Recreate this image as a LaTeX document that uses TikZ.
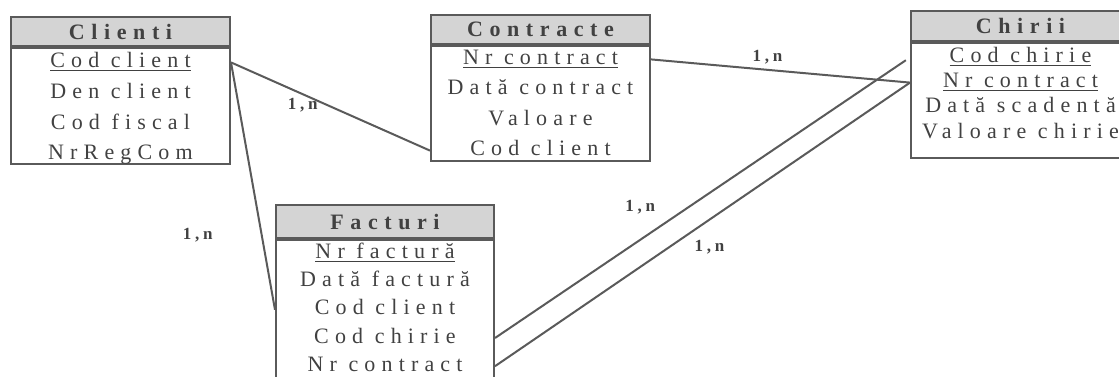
\documentclass[tikz,border=0pt]{standalone}
\usepackage{fontspec}
\setmainfont{Liberation Serif}
\newfontfamily\fldfont[LetterSpace=28]{Liberation Serif}
\newfontfamily\hdrfont[LetterSpace=30]{Liberation Serif}
\newfontfamily\cardfont[LetterSpace=22]{Liberation Serif}
\usepackage{xcolor}
\definecolor{inkgray}{RGB}{90,90,90}
\definecolor{txtgray}{RGB}{65,65,65}
\definecolor{hdrfill}{RGB}{212,212,212}
\usepackage{tikz}
\usetikzlibrary{positioning}

\begin{document}
\begin{tikzpicture}[x=0.5pt, y=-0.5pt,
    hdr/.style={rectangle, draw=inkgray, line width=1pt, fill=hdrfill,
                anchor=north west, inner sep=0pt,
                minimum width=109.5pt, minimum height=14.5pt,
                text=txtgray, font=\hdrfont\bfseries\fontsize{11pt}{13pt}\selectfont},
    body/.style={rectangle, draw=inkgray, line width=1pt, inner sep=0pt,
                 minimum width=109.5pt},
    fld/.style={inner sep=0pt, text height=7pt, text depth=2pt, text=txtgray,
                font=\fldfont\fontsize{11pt}{13pt}\selectfont},
    rel/.style={draw=inkgray, line width=1pt},
    card/.style={inner sep=0pt, text=txtgray,
                 font=\cardfont\bfseries\fontsize{8.5pt}{10pt}\selectfont},
  ]
    \useasboundingbox (0,0) rectangle (1119,376);

    % Clienti
    \node[hdr] (clH) at (10,16) {Clienti};
    \node[body, minimum height=58pt, below=0pt of clH] (clB) {};
    \node[fld, below=3pt of clH] (cl1) {\underline{Cod client}};
    \node[fld, below=6pt of cl1] (cl2) {Den client};
    \node[fld, below=6pt of cl2] (cl3) {Cod fiscal};
    \node[fld, below=6pt of cl3] (cl4) {NrRegCom};

    % Contracte
    \node[hdr] (coH) at (430,14) {Contracte};
    \node[body, minimum height=57.5pt, below=0pt of coH] (coB) {};
    \node[fld, below=2.5pt of coH] (co1) {\underline{Nr contract}};
    \node[fld, below=5.8pt of co1] (co2) {Dată contract};
    \node[fld, below=5.8pt of co2] (co3) {Valoare};
    \node[fld, below=5.8pt of co3] (co4) {Cod client};

    % Chirii
    \node[hdr, minimum height=15pt] (chH) at (910,10) {Chirii};
    \node[body, minimum height=57.5pt, below=0pt of chH] (chB) {};
    \node[fld, below=3pt of chH] (ch1) {\underline{Cod chirie}};
    \node[fld, below=3.2pt of ch1] (ch2) {\underline{Nr contract}};
    \node[fld, below=3.2pt of ch2] (ch3) {Dată scadentă};
    \node[fld, below=3.2pt of ch3] (ch4) {Valoare chirie};

    % Facturi
    \node[hdr, minimum width=109pt, minimum height=16.5pt] (faH) at (275,204) {Facturi};
    \node[body, minimum width=109pt, minimum height=76pt, below=0pt of faH] (faB) {};
    \node[fld, below=2.5pt of faH] (fa1) {\underline{Nr factură}};
    \node[fld, below=4.7pt of fa1] (fa2) {Dată factură};
    \node[fld, below=4.7pt of fa2] (fa3) {Cod client};
    \node[fld, below=4.7pt of fa3] (fa4) {Cod chirie};
    \node[fld, below=4.7pt of fa4] (fa5) {Nr contract};

    % relatii
    \draw[rel] (cl1 -| clB.east) -- node[card, pos=0.36, yshift=-5.5pt] (m1) {1,n} (co4 -| coB.west);
    \draw[rel] (cl1 -| clB.east) -- node[card, pos=0.7, xshift=-32pt] (m2) {1,n} (fa3 -| faB.west);
    \draw[rel] (co1 -| coB.east) -- node[card, pos=0.45, yshift=6.5pt] (m3) {1,n} (ch2 -| chB.west);
    \draw[rel, shorten >=2.5pt] (fa4 -| faB.east) -- node[card, pos=0.35, yshift=16.5pt] (m4) {1,n} (ch1 -| chB.west);
    \draw[rel] (fa5 -| faB.east) -- node[card, pos=0.517, yshift=-14pt] (m5) {1,n} (ch2 -| chB.west);
\end{tikzpicture}
\end{document}
